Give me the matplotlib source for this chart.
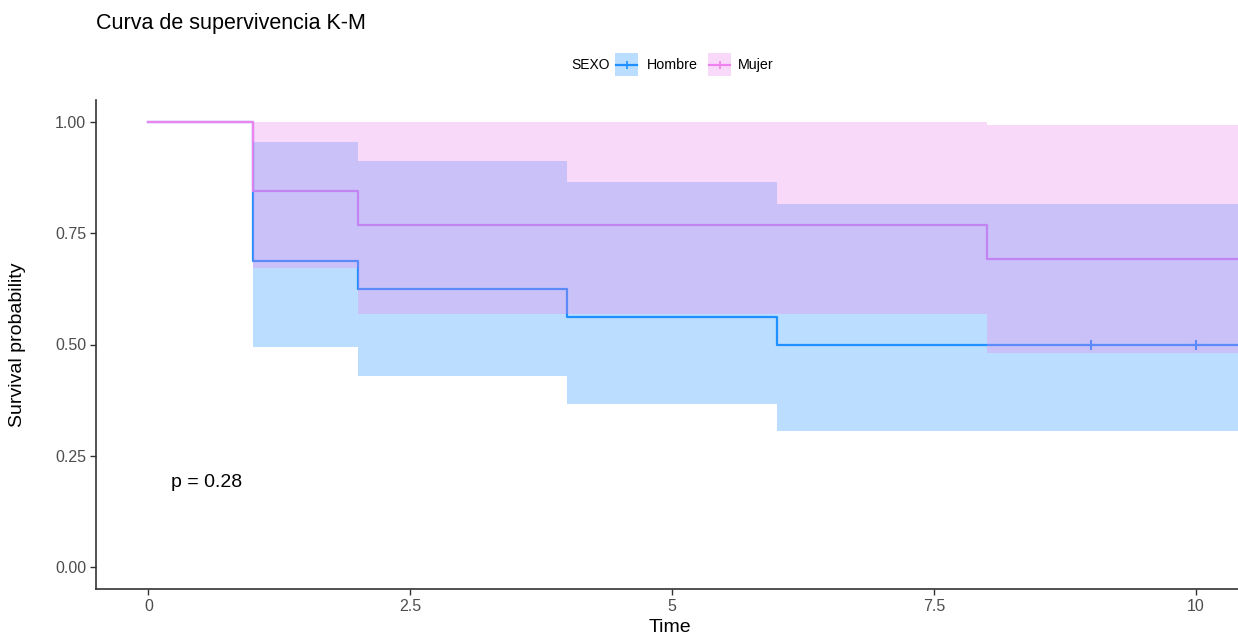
import matplotlib
matplotlib.use("Agg")
import matplotlib.pyplot as plt
from matplotlib.patches import Rectangle
from matplotlib.lines import Line2D

plt.rcParams['font.family'] = ['Liberation Sans', 'DejaVu Sans']

# ---- data ----
groups = ["Hombre", "Mujer"]
legend_title = "SEXO"

hombre_time = [0, 1, 2, 4, 6, 10.5]
hombre_surv = [1.0, 0.6875, 0.625, 0.5625, 0.5, 0.5]
hombre_upper = [1.0, 0.955, 0.913, 0.865, 0.815, 0.815]
hombre_lower = [1.0, 0.495, 0.430, 0.366, 0.306, 0.306]
hombre_censor_time = [9, 10]
hombre_censor_surv = [0.5, 0.5]

mujer_time = [0, 1, 2, 8, 10.5]
mujer_surv = [1.0, 0.846, 0.769, 0.692, 0.692]
mujer_upper = [1.0, 1.0, 1.0, 0.994, 0.994]
mujer_lower = [1.0, 0.672, 0.569, 0.481, 0.481]

pval_text = "p = 0.28"
x_ticks = [0, 2.5, 5, 7.5, 10]
x_ticklabels = ["0", "2.5", "5", "7.5", "10"]
y_ticks = [0.0, 0.25, 0.5, 0.75, 1.0]
y_ticklabels = ["0.00", "0.25", "0.50", "0.75", "1.00"]

col_h = "#1E90FF"
col_m = "#EE82EE"

W, H = 1238, 634
fig = plt.figure(figsize=(W / 100, H / 100), dpi=100)
ax = fig.add_axes([96 / W, 1 - 589 / H, 1 - 96 / W, (589 - 100) / H])

# lines first (ribbons drawn on top, as in ggsurvplot)
ax.step(hombre_time, hombre_surv, where='post', color=col_h, lw=1.6, zorder=2)
ax.step(mujer_time, mujer_surv, where='post', color=col_m, lw=1.6, zorder=2)
ax.plot(hombre_censor_time, hombre_censor_surv, ls='none', marker='+',
        color=col_h, ms=7, mew=1.5, zorder=2)

ax.fill_between(hombre_time, hombre_lower, hombre_upper, step='post',
                color=col_h, alpha=0.3, lw=0, zorder=3)
ax.fill_between(mujer_time, mujer_lower, mujer_upper, step='post',
                color=col_m, alpha=0.3, lw=0, zorder=3)

ax.text(0.22, 0.19, pval_text, ha='left', va='center', fontsize=14, color='black')

ax.set_xlim(-0.5, 10.4)
ax.set_ylim(-0.05, 1.05)
ax.set_xticks(x_ticks)
ax.set_xticklabels(x_ticklabels)
ax.set_yticks(y_ticks)
ax.set_yticklabels(y_ticklabels)
ax.tick_params(axis='both', labelsize=11.5, colors='#333333', length=4,
               width=1, labelcolor='#4D4D4D', pad=3)
for s in ['top', 'right']:
    ax.spines[s].set_visible(False)
for s in ['left', 'bottom']:
    ax.spines[s].set_color('#333333')
    ax.spines[s].set_linewidth(1.2)

fig.text(18 / W, 1 - 345 / H, "Survival probability", rotation=90,
         ha='center', va='center', fontsize=14, color='black')
fig.text(670 / W, 1 - 627 / H, "Time", ha='center', va='center',
         fontsize=14, color='black')
fig.text(96 / W, 1 - 23 / H, "Curva de supervivencia K-M", ha='left',
         va='center', fontsize=15.5, color='black')

# legend (manual, ggplot-style at top)
ly = 1 - 65 / H
fig.text(571 / W, ly, legend_title, ha='left', va='center', fontsize=10)
keys = [(615, 647, groups[0], col_h), (708, 738, groups[1], col_m)]
for x0, xt, lab, c in keys:
    fig.patches.append(Rectangle((x0 / W, 1 - 76 / H), 23 / W, 23 / H,
                                 transform=fig.transFigure, facecolor=c,
                                 alpha=0.3, lw=0))
    fig.lines.append(Line2D([(x0 + 1) / W, (x0 + 22) / W], [ly, ly],
                            transform=fig.transFigure, color=c, lw=1.6))
    fig.lines.append(Line2D([(x0 + 11.5) / W], [ly], transform=fig.transFigure,
                            color=c, marker='+', ms=6, mew=1.2, ls='none'))
    fig.text(xt / W, ly, lab, ha='left', va='center', fontsize=10.3)

fig.savefig("out.png", dpi=100, facecolor='white')
